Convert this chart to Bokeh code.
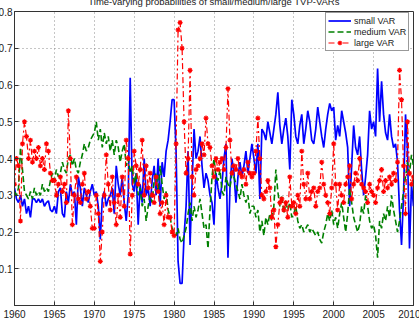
import numpy as np
from bokeh.plotting import figure
from bokeh.models import Legend, LegendItem, Range1d, FixedTicker
from bokeh.embed import file_html
from bokeh.resources import INLINE

start_year = 1960
periods_per_year = 4

small_var = [
    0.32, 0.29, 0.28, 0.30, 0.27, 0.29, 0.25, 0.27, 0.24, 0.29,
    0.29, 0.28, 0.29, 0.28, 0.29, 0.27, 0.28, 0.285, 0.26, 0.255,
    0.27, 0.25, 0.31, 0.32, 0.25, 0.24, 0.31, 0.28, 0.33, 0.30,
    0.31, 0.22, 0.35, 0.32, 0.27, 0.32, 0.30, 0.28, 0.31, 0.33,
    0.30, 0.31, 0.27, 0.18, 0.29, 0.31, 0.27, 0.29, 0.30, 0.32,
    0.25, 0.38, 0.33, 0.30, 0.35, 0.28, 0.23, 0.30, 0.62, 0.33,
    0.31, 0.36, 0.22, 0.33, 0.28, 0.40, 0.30, 0.32, 0.27, 0.34,
    0.38, 0.30, 0.40, 0.27, 0.39, 0.35, 0.42, 0.45, 0.50, 0.56,
    0.56, 0.42, 0.12, 0.06, 0.06, 0.19, 0.27, 0.42, 0.165, 0.33,
    0.48, 0.40, 0.42, 0.46, 0.38, 0.32, 0.36, 0.34, 0.30, 0.28,
    0.22, 0.36, 0.32, 0.29, 0.33, 0.40, 0.44, 0.13, 0.32, 0.40,
    0.36, 0.28, 0.35, 0.39, 0.35, 0.38, 0.42, 0.36, 0.40, 0.44,
    0.40, 0.36, 0.44, 0.29, 0.48, 0.47, 0.45, 0.50, 0.47, 0.44,
    0.48, 0.52, 0.58, 0.49, 0.44, 0.48, 0.51, 0.46, 0.37, 0.56,
    0.52, 0.46, 0.44, 0.49, 0.52, 0.44, 0.48, 0.53, 0.50, 0.45,
    0.44, 0.48, 0.54, 0.50, 0.46, 0.43, 0.48, 0.52, 0.55, 0.53,
    0.54, 0.45, 0.49, 0.46, 0.53, 0.50, 0.47, 0.43, 0.27, 0.38,
    0.49, 0.43, 0.41, 0.46, 0.37, 0.30, 0.35, 0.41, 0.53, 0.48,
    0.50, 0.46, 0.645, 0.50, 0.61, 0.52, 0.47, 0.45, 0.52, 0.46,
    0.43, 0.44, 0.39, 0.26, 0.165, 0.30, 0.52, 0.42, 0.155, 0.33, 0.27,
]

medium_var = [
    0.31, 0.30, 0.32, 0.43, 0.37, 0.31, 0.30, 0.29, 0.31, 0.29,
    0.32, 0.30, 0.31, 0.30, 0.33, 0.31, 0.32, 0.31, 0.34, 0.36,
    0.34, 0.37, 0.35, 0.36, 0.39, 0.37, 0.36, 0.40, 0.41, 0.38,
    0.40, 0.37, 0.36, 0.39, 0.41, 0.44, 0.42, 0.43, 0.45, 0.46,
    0.47, 0.50, 0.45, 0.48, 0.43, 0.47, 0.44, 0.46, 0.42, 0.45,
    0.41, 0.45, 0.43, 0.39, 0.42, 0.44, 0.38, 0.40, 0.36, 0.38,
    0.33, 0.36, 0.30, 0.32, 0.27, 0.29, 0.23, 0.27, 0.30, 0.28,
    0.34, 0.36, 0.31, 0.38, 0.33, 0.29, 0.31, 0.26, 0.24, 0.21,
    0.20, 0.19, 0.21, 0.18, 0.17, 0.19, 0.21, 0.25, 0.28, 0.23,
    0.27, 0.24, 0.26, 0.29, 0.25, 0.21, 0.22, 0.155, 0.26, 0.35,
    0.40, 0.35, 0.34, 0.37, 0.31, 0.30, 0.35, 0.33, 0.32, 0.36,
    0.35, 0.33, 0.31, 0.29, 0.33, 0.30, 0.28, 0.30, 0.25, 0.27,
    0.27, 0.24, 0.26, 0.20, 0.23, 0.19, 0.24, 0.22, 0.25, 0.23,
    0.27, 0.37, 0.31, 0.27, 0.30, 0.25, 0.28, 0.26, 0.28, 0.24,
    0.25, 0.27, 0.23, 0.21, 0.22, 0.20, 0.21, 0.22, 0.20, 0.21,
    0.20, 0.19, 0.20, 0.18, 0.17, 0.20, 0.22, 0.25, 0.23, 0.26,
    0.22, 0.24, 0.21, 0.25, 0.28, 0.24, 0.20, 0.25, 0.32, 0.28,
    0.24, 0.22, 0.20, 0.22, 0.27, 0.25, 0.30, 0.27, 0.23, 0.21,
    0.22, 0.19, 0.13, 0.23, 0.21, 0.25, 0.23, 0.27, 0.24, 0.30,
    0.26, 0.23, 0.20, 0.23, 0.27, 0.31, 0.35, 0.39, 0.36, 0.41, 0.38,
]

large_var = [
    0.33, 0.40, 0.38, 0.23, 0.44, 0.50, 0.46, 0.40, 0.45, 0.39,
    0.42, 0.40, 0.43, 0.38, 0.40, 0.37, 0.44, 0.42, 0.36, 0.34,
    0.34, 0.30, 0.33, 0.35, 0.31, 0.33, 0.28, 0.53, 0.40, 0.22,
    0.30, 0.35, 0.29, 0.28, 0.33, 0.36, 0.29, 0.31, 0.27, 0.21,
    0.21, 0.30, 0.25, 0.12, 0.20, 0.30, 0.41, 0.33, 0.26, 0.35,
    0.28, 0.22, 0.30, 0.24, 0.35, 0.27, 0.45, 0.40, 0.14, 0.30,
    0.42, 0.38, 0.33, 0.37, 0.45, 0.30, 0.38, 0.32, 0.36, 0.30,
    0.28, 0.35, 0.31, 0.25, 0.28, 0.22, 0.30, 0.24, 0.24, 0.20,
    0.19, 0.44, 0.75, 0.77, 0.70, 0.50, 0.36, 0.40, 0.64, 0.35,
    0.30, 0.37, 0.38, 0.40, 0.44, 0.41, 0.51, 0.44, 0.43, 0.38,
    0.35, 0.40, 0.37, 0.39, 0.40, 0.37, 0.43, 0.59, 0.45, 0.36,
    0.38, 0.37, 0.40, 0.36, 0.35, 0.37, 0.33, 0.39, 0.36, 0.35,
    0.36, 0.42, 0.51, 0.40, 0.30, 0.29, 0.31, 0.34, 0.32, 0.24,
    0.26, 0.16, 0.22, 0.28, 0.29, 0.26, 0.28, 0.24, 0.35, 0.27,
    0.28, 0.25, 0.30, 0.27, 0.42, 0.33, 0.29, 0.36, 0.29, 0.31,
    0.32, 0.27, 0.31, 0.32, 0.39, 0.33, 0.30, 0.28, 0.25, 0.32,
    0.44, 0.33, 0.26, 0.33, 0.30, 0.28, 0.33, 0.35, 0.38, 0.29,
    0.33, 0.36, 0.34, 0.40, 0.33, 0.32, 0.31, 0.28, 0.33, 0.31,
    0.30, 0.28, 0.32, 0.34, 0.37, 0.31, 0.34, 0.32, 0.35, 0.33,
    0.36, 0.34, 0.39, 0.64, 0.56, 0.38, 0.25, 0.50, 0.36, 0.33, 0.35,
]

x_tick_values = [1960, 1965, 1970, 1975, 1980, 1985, 1990, 1995, 2000, 2005, 2010]
y_tick_values = [0.1, 0.2, 0.3, 0.4, 0.5, 0.6, 0.7, 0.8]
title_text = "Time-varying probabilities of small/medium/large TVP-VARs"
series_labels = ["small VAR", "medium VAR", "large VAR"]

dates = start_year + np.arange(len(small_var)) / periods_per_year

FONT = "Liberation Sans"

p = figure(
    frame_width=399, frame_height=294,
    x_range=Range1d(1960, 2010), y_range=Range1d(0, 0.8),
    output_backend="svg", toolbar_location=None,
    title=title_text,
    min_border_left=0, min_border_right=7, min_border_top=0, min_border_bottom=4,
    margin=(-11, 0, 0, -5),
)
p.title.align = "center"
p.title.text_font = FONT
p.title.text_font_size = "9.5px"
p.title.text_font_style = "normal"
p.title.text_color = "#1a1a1a"
p.title.standoff = 9
p.title.offset = 3

p.background_fill_color = "white"
p.border_fill_color = "white"
p.outline_line_color = "#333333"
p.outline_line_width = 1

p.xaxis.ticker = FixedTicker(ticks=x_tick_values)
p.yaxis.ticker = FixedTicker(ticks=y_tick_values)
for ax in (p.xaxis, p.yaxis):
    ax.major_tick_in = 4
    ax.major_tick_out = 0
    ax.minor_tick_in = 0
    ax.minor_tick_out = 0
    ax.axis_line_color = "#333333"
    ax.major_tick_line_color = "#333333"
    ax.major_label_text_font = FONT
    ax.major_label_text_font_size = "10px"
    ax.major_label_text_color = "#1a1a1a"
p.xaxis.major_label_standoff = 4
p.yaxis.major_label_standoff = 2

p.xgrid.ticker = FixedTicker(ticks=x_tick_values)
p.ygrid.ticker = FixedTicker(ticks=y_tick_values)
p.grid.grid_line_color = "#8c8c8c"
p.grid.grid_line_dash = "1 3"
p.grid.grid_line_width = 1

r_small = p.line(dates, small_var, line_color="#0000ff", line_width=1.7)
r_medium = p.line(dates, medium_var, line_color="#008000", line_width=1.6, line_dash="6 3")
r_large = p.line(dates, large_var, line_color="#ff0000", line_width=1.2, line_dash="6 3 2 3")
r_large_m = p.scatter(dates, large_var, marker="asterisk", size=5, line_color="#ff0000", line_width=1.2)

legend = Legend(
    items=[
        LegendItem(label=series_labels[0], renderers=[r_small]),
        LegendItem(label=series_labels[1], renderers=[r_medium]),
        LegendItem(label=series_labels[2], renderers=[r_large, r_large_m]),
    ],
    location=(311, 254),
    label_text_font=FONT, label_text_font_size="9px", label_text_color="#1a1a1a",
    glyph_width=23, glyph_height=11, label_height=11, label_standoff=3,
    spacing=0, padding=2, margin=0,
    border_line_color="#333333", border_line_width=1,
    background_fill_color="white", background_fill_alpha=1,
)
p.add_layout(legend)

open("out.html", "w").write(file_html(p, INLINE))
